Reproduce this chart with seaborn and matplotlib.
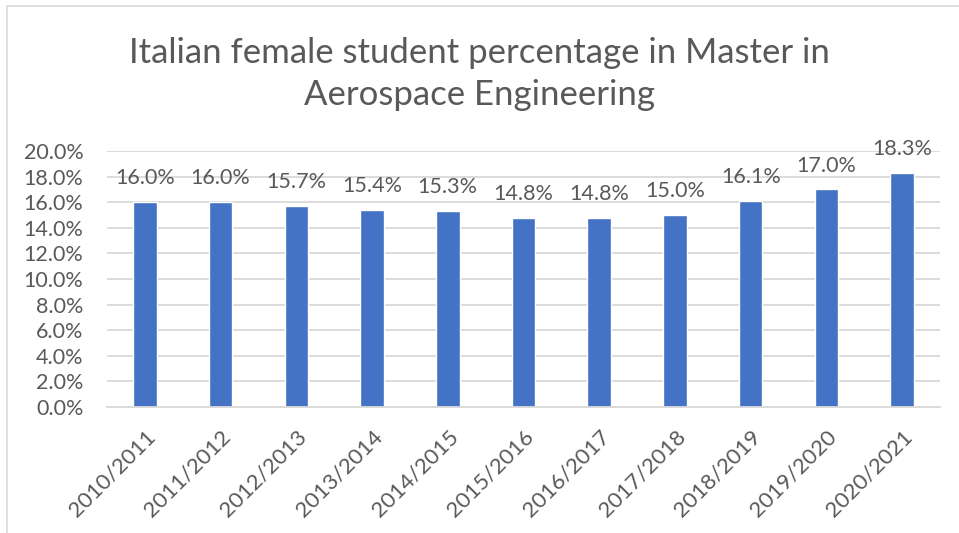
import pandas as pd
import matplotlib.pyplot as plt
import seaborn as sns
from matplotlib.patches import Rectangle

years = ["2010/2011", "2011/2012", "2012/2013", "2013/2014", "2014/2015", "2015/2016",
         "2016/2017", "2017/2018", "2018/2019", "2019/2020", "2020/2021"]
female_pct = [16.0, 16.0, 15.7, 15.4, 15.3, 14.8, 14.8, 15.0, 16.1, 17.0, 18.3]

df = pd.DataFrame({"year": years, "pct": [v / 100 for v in female_pct]})

sns.set_style("white")
plt.rcParams["font.family"] = ["Lato", "DejaVu Sans"]
text_color = "#595959"

fig = plt.figure(figsize=(9.59, 5.33), dpi=100)
ax = fig.add_axes([107 / 959, 1 - 407 / 533, (940 - 107) / 959, (407 - 151) / 533])

sns.barplot(data=df, x="year", y="pct", color="#4472C4", width=0.31, saturation=1, ax=ax)

ax.set_ylim(0, 0.2)
ax.set_yticks([i / 50 for i in range(11)])
ax.set_yticklabels([f"{i * 2:.1f}%" for i in range(11)])
ax.yaxis.grid(True, color="#D9D9D9", linewidth=1.3)
ax.set_axisbelow(True)
for s in ["top", "right", "left"]:
    ax.spines[s].set_visible(False)
ax.spines["bottom"].set_color("#D9D9D9")
ax.spines["bottom"].set_linewidth(1.3)

ax.tick_params(axis="y", labelsize=15.5, labelcolor=text_color, length=0, pad=17)
ax.tick_params(axis="x", labelsize=16, labelcolor=text_color, length=0, pad=14)
plt.setp(ax.get_xticklabels(), rotation=45, ha="right", va="top", rotation_mode="anchor")
ax.set_xlabel("")
ax.set_ylabel("")

ax.bar_label(ax.containers[0], labels=[f"{v:.1f}%" for v in female_pct],
             padding=10, fontsize=15.5, color=text_color)

fig.text(0.5, 1 - 74 / 533, "Italian female student percentage in Master in\nAerospace Engineering",
         ha="center", va="center", fontsize=25, color=text_color, linespacing=1.35)

fig.patches.append(Rectangle((7 / 959, -0.1), 1.2, 1 - 6 / 533 + 0.1, transform=fig.transFigure,
                             fill=False, edgecolor="#D9D9D9", linewidth=1.2))

fig.savefig("out.png", dpi=100)
